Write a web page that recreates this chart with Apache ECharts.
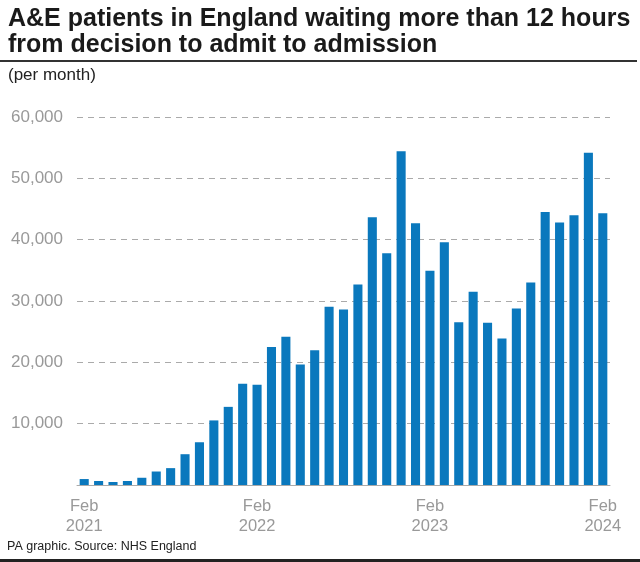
<!DOCTYPE html>
<html>
<head>
<meta charset="utf-8">
<script src="https://cdn.jsdelivr.net/npm/echarts@6/dist/echarts.min.js"></script>
<style>html,body{margin:0;padding:0;background:#fff}#c{width:640px;height:562px}</style>
</head>
<body>
<div id="c"></div>
<script>
var categories = ["Feb 2021","Mar 2021","Apr 2021","May 2021","Jun 2021","Jul 2021","Aug 2021","Sep 2021","Oct 2021","Nov 2021","Dec 2021","Jan 2022",
"Feb 2022","Mar 2022","Apr 2022","May 2022","Jun 2022","Jul 2022","Aug 2022","Sep 2022","Oct 2022","Nov 2022","Dec 2022","Jan 2023",
"Feb 2023","Mar 2023","Apr 2023","May 2023","Jun 2023","Jul 2023","Aug 2023","Sep 2023","Oct 2023","Nov 2023","Dec 2023","Jan 2024","Feb 2024"];
var patients = [970,650,490,650,1180,2200,2750,5020,6970,10530,12740,16500,16350,22480,24170,19660,21990,29050,28610,32690,43650,37790,54400,42670,
34920,39580,26550,31490,26450,23890,28780,33010,44530,42790,43970,54190,44300];
var labelledCategories = ["Feb 2021","Feb 2022","Feb 2023","Feb 2024"];
var yTicks = [0,10000,20000,30000,40000,50000,60000];

var chart = echarts.init(document.getElementById('c'), null, {renderer:'canvas'});
chart.setOption({
  animation:false,
  backgroundColor:'#fff',
  title:[
    {text:'A&E patients in England waiting more than 12 hours\nfrom decision to admit to admission', left:8, top:6, padding:0,
     textStyle:{fontFamily:'Liberation Sans', fontWeight:'bold', fontSize:25, lineHeight:26, color:'#1a1a1a'}},
    {text:'(per month)', left:8, top:67, padding:0, textStyle:{fontFamily:'Liberation Sans', fontWeight:'normal', fontSize:17, color:'#222'}},
    {text:'PA graphic. Source: NHS England', left:7, top:540, padding:0, textStyle:{fontFamily:'Liberation Sans', fontWeight:'normal', fontSize:12.5, color:'#222'}}
  ],
  graphic:[
    {type:'rect', shape:{x:0,y:60,width:637,height:2}, style:{fill:'#333'}},
    {type:'rect', shape:{x:0,y:559,width:640,height:3}, style:{fill:'#222'}}
  ],
  grid:{left:77, right:30, top:117, bottom:77},
  xAxis:{
    type:'category', data:categories, boundaryGap:true,
    axisLine:{show:true, lineStyle:{color:'#aaa', width:1}},
    axisTick:{show:false},
    axisLabel:{
      interval:function(i, v){return labelledCategories.indexOf(v) >= 0;},
      formatter:function(v){return v.replace(' ','\n');},
      color:'#999', fontFamily:'Liberation Sans', fontSize:16.5, lineHeight:20, margin:11
    }
  },
  yAxis:{
    type:'value', min:yTicks[0], max:yTicks[yTicks.length-1], interval:yTicks[1]-yTicks[0],
    axisLine:{show:false}, axisTick:{show:false},
    splitLine:{show:true, lineStyle:{color:'#aaa', type:[6,5], width:1}},
    axisLabel:{
      formatter:function(v){return v===0?'':v.toLocaleString('en-GB');},
      color:'#999', fontFamily:'Liberation Sans', fontSize:17, margin:14
    }
  },
  series:[{
    type:'bar', data:patients, barWidth:'63%',
    itemStyle:{color:'#0a78bd'}
  }]
});
</script>
</body>
</html>
